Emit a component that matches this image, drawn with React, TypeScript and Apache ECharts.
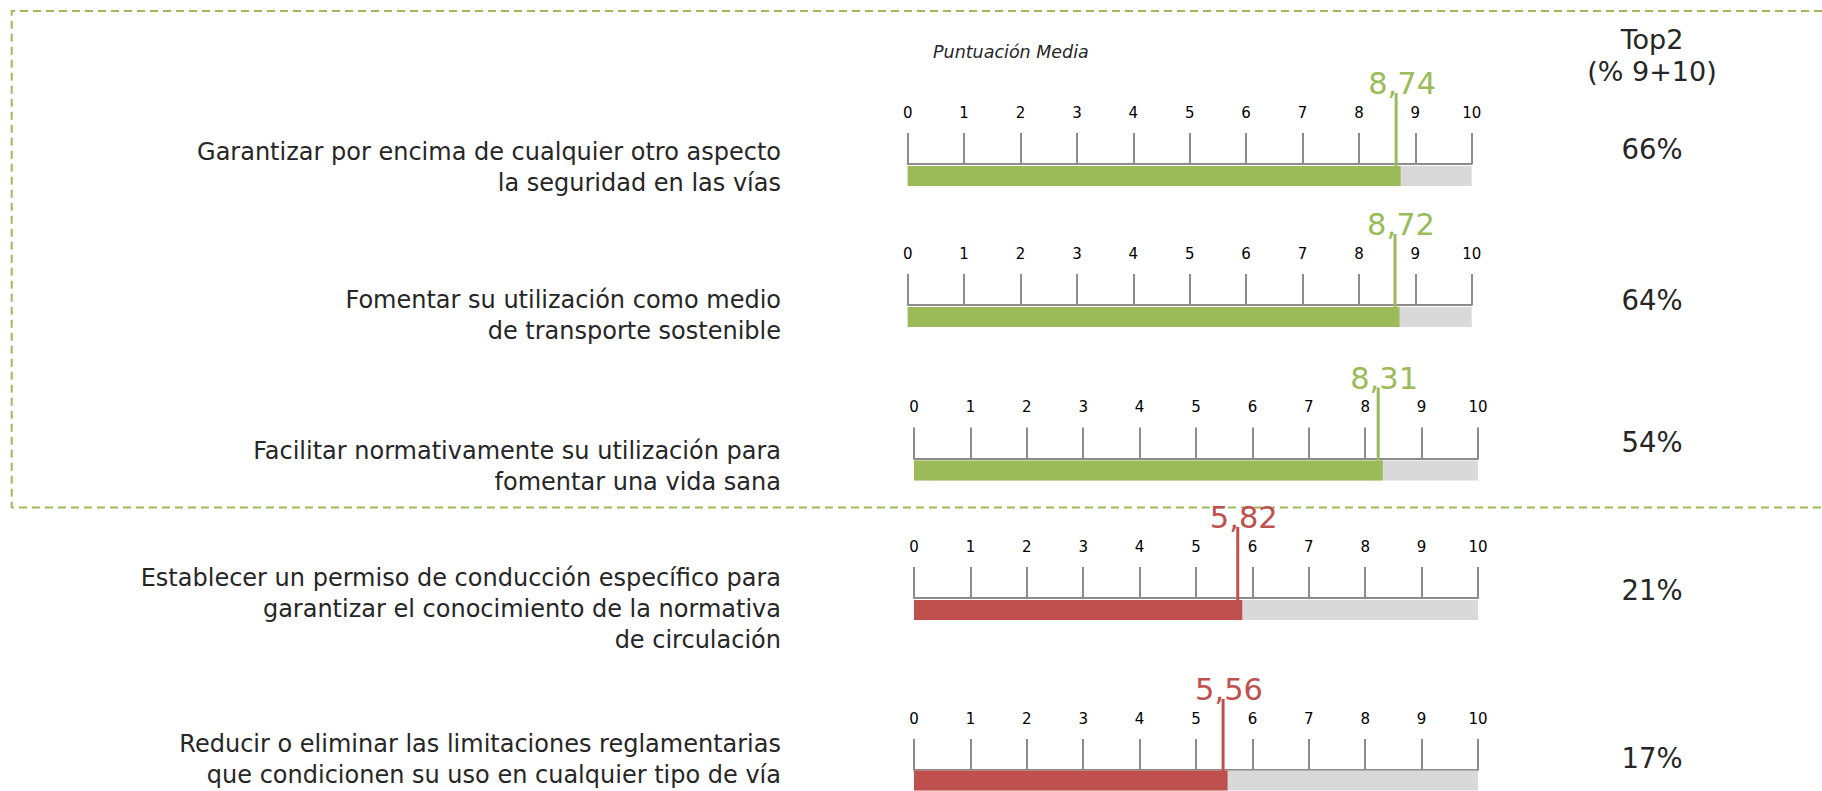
import React, { useEffect, useRef } from "react";
import * as echarts from "echarts";

const categories = [
  "Garantizar por encima de cualquier otro aspecto\nla seguridad en las vías",
  "Fomentar su utilización como medio\nde transporte sostenible",
  "Facilitar normativamente su utilización para\nfomentar una vida sana",
  "Establecer un permiso de conducción específico para\ngarantizar el conocimiento de la normativa\nde circulación",
  "Reducir o eliminar las limitaciones reglamentarias\nque condicionen su uso en cualquier tipo de vía",
];
const meanScores = [8.74, 8.72, 8.31, 5.82, 5.56];
const top2Percent = [66, 64, 54, 21, 17];
const axisTicks = [0, 1, 2, 3, 4, 5, 6, 7, 8, 9, 10];
const headerTop2 = "Top2\n(% 9+10)";
const headerMean = "Puntuación Media";

const FONT = "'DejaVu Sans', 'Noto Sans', sans-serif";
const GREEN = "#9BBB59";
const RED = "#C0504D";
const GRAY = "#D9D9D9";
const TICK = "#8C8C8C";
const TEXT = "#262626";

// layout (pixels)
const rowBaseline = [164, 305, 458.5, 598, 770];
const rowLeft = [907.7, 907.7, 914, 914, 914];
const axisWidth = 564;
const labelCenterY = [167.5, 315, 466, 609, 759];
const pctCenterY = [149, 300, 442, 590, 758];

const fmt = (v: number) => v.toFixed(2).replace(".", ",");
const colorFor = (v: number) => (v >= 7 ? GREEN : RED);

export default function App() {
  const ref = useRef<HTMLDivElement>(null);
  useEffect(() => {
    document.body.style.margin = "0";
    if (!ref.current) return;
    const chart = echarts.init(ref.current, undefined, { renderer: "svg" });

    const grids: any[] = [];
    const xAxes: any[] = [];
    const yAxes: any[] = [];
    const series: any[] = [];
    const graphics: any[] = [];

    meanScores.forEach((v, i) => {
      const col = colorFor(v);
      grids.push({
        left: rowLeft[i],
        width: axisWidth,
        top: rowBaseline[i],
        height: 24,
        containLabel: false,
      });
      xAxes.push({
        type: "value",
        gridIndex: i,
        position: "top",
        min: axisTicks[0],
        max: axisTicks[axisTicks.length - 1],
        interval: 1,
        axisLine: { show: true, lineStyle: { color: TICK, width: 2 } },
        axisTick: { show: true, length: 31, lineStyle: { color: TICK, width: 2 } },
        axisLabel: {
          show: true,
          margin: 44,
          fontSize: 15,
          color: "#000000",
          fontFamily: FONT,
          formatter: (val: number) => String(val),
        },
        splitLine: { show: false },
      });
      yAxes.push({
        type: "category",
        gridIndex: i,
        data: [categories[i]],
        show: false,
      });
      series.push({
        type: "bar",
        xAxisIndex: i,
        yAxisIndex: i,
        data: [v],
        barWidth: 20,
        showBackground: true,
        backgroundStyle: { color: GRAY },
        itemStyle: { color: col },
        silent: true,
        z: 1,
      });
      series.push({
        type: "custom",
        xAxisIndex: i,
        yAxisIndex: i,
        data: [[v, 0]],
        encode: { x: 0, y: 1 },
        clip: false,
        z: 5,
        renderItem: (params: any, api: any) => {
          const val = api.value(0);
          const pt = api.coord([val, 0]);
          const top = params.coordSys.y;
          return {
            type: "group",
            children: [
              {
                type: "rect",
                shape: { x: pt[0] - 6, y: top - 71, width: 3, height: 73 },
                style: { fill: col },
              },
              {
                type: "text",
                style: {
                  text: fmt(val),
                  x: pt[0] + 1.5,
                  y: top - 80.5,
                  align: "center",
                  verticalAlign: "middle",
                  fontSize: 30.5,
                  fontFamily: FONT,
                  fill: col,
                },
              },
            ],
          };
        },
      });

      graphics.push({
        type: "text",
        x: 781,
        y: labelCenterY[i],
        style: {
          text: categories[i],
          align: "right",
          verticalAlign: "middle",
          fontSize: 24,
          lineHeight: 31,
          fontFamily: FONT,
          fill: TEXT,
        },
      });
      graphics.push({
        type: "text",
        x: 1652,
        y: pctCenterY[i],
        style: {
          text: top2Percent[i] + "%",
          align: "center",
          verticalAlign: "middle",
          fontSize: 27.5,
          fontFamily: FONT,
          fill: TEXT,
        },
      });
    });

    graphics.push({
      type: "text",
      x: 1652,
      y: 55,
      style: {
        text: headerTop2,
        align: "center",
        verticalAlign: "middle",
        fontSize: 27,
        lineHeight: 32,
        fontFamily: FONT,
        fill: TEXT,
      },
    });
    graphics.push({
      type: "text",
      x: 933,
      y: 52,
      style: {
        text: headerMean,
        align: "left",
        verticalAlign: "middle",
        fontSize: 17.5,
        fontStyle: "italic",
        fontFamily: FONT,
        fill: TEXT,
      },
    });
    graphics.push({
      type: "polyline",
      shape: {
        points: [
          [1822, 11],
          [11.7, 11],
          [11.7, 507.5],
          [1822, 507.5],
        ],
      },
      style: { stroke: GREEN, lineWidth: 2, lineDash: [8, 5], fill: "none" },
      z: -1,
    });

    chart.setOption({
      animation: false,
      backgroundColor: "#ffffff",
      grid: grids,
      xAxis: xAxes,
      yAxis: yAxes,
      series,
      graphic: graphics,
    });
    return () => chart.dispose();
  }, []);
  return <div ref={ref} style={{ width: 1822, height: 791 }} />;
}
